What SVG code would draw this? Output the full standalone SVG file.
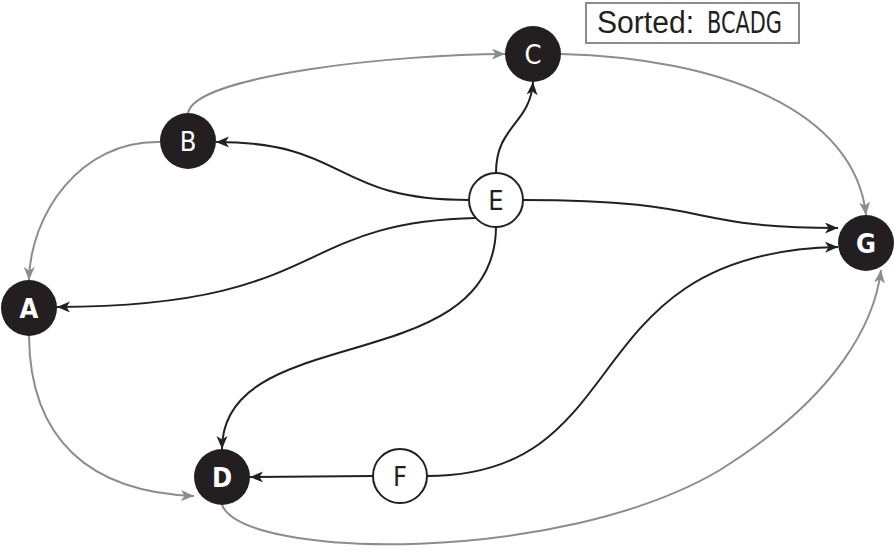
<svg xmlns="http://www.w3.org/2000/svg" width="894" height="551" viewBox="0 0 894 551">
  <style>
    .edge { fill: none; stroke-width: 2; }
    .gray { stroke: #8c8c8c; }
    .dark { stroke: #231f20; }
    .filled circle { fill: #231f20; }
    .open circle { fill: #ffffff; stroke: #231f20; stroke-width: 2; }
    .filled text { fill: #ffffff; }
    .open text { fill: #231f20; }
    text.lbl { font-family: "DejaVu Sans Condensed", "Liberation Sans Narrow", "DejaVu Sans", sans-serif; font-size: 27px; text-anchor: middle; }
    text.heavy { font-weight: bold; }
  </style>
  <defs>
    <marker id="arrowDark" markerUnits="userSpaceOnUse" markerWidth="14" markerHeight="12" refX="13" refY="5.5" orient="auto">
      <path d="M0,0 L13,5.5 L0,11 L3.5,5.5 z" fill="#231f20"/>
    </marker>
    <marker id="arrowGray" markerUnits="userSpaceOnUse" markerWidth="14" markerHeight="12" refX="13" refY="5.5" orient="auto">
      <path d="M0,0 L13,5.5 L0,11 L3.5,5.5 z" fill="#8c8c8c"/>
    </marker>
  </defs>

  <!-- sorted order box -->
  <g id="sorted">
    <rect x="586" y="3" width="213" height="40" fill="#ffffff" stroke="#8c8c8c" stroke-width="2"/>
    <text x="597" y="33" font-family="'Liberation Sans', sans-serif" font-size="31" fill="#231f20" textLength="97" lengthAdjust="spacingAndGlyphs">Sorted:</text>
    <text x="707" y="33" font-family="'DejaVu Sans Condensed', 'Liberation Sans Narrow', sans-serif" font-size="30" fill="#231f20" textLength="75" lengthAdjust="spacingAndGlyphs">BCADG</text>
  </g>

  <g id="connectors">
    <!-- gray edges -->
    <path class="edge gray" marker-end="url(#arrowGray)" d="M188,113 C195,75 400,54 505,54"/>
    <path class="edge gray" marker-end="url(#arrowGray)" d="M561,54 C720,58 855,110 866,215"/>
    <path class="edge gray" marker-end="url(#arrowGray)" d="M160,142 C80,140 30,215 29,280"/>
    <path class="edge gray" marker-end="url(#arrowGray)" d="M29,336 C30,440 90,492 194,496"/>
    <path class="edge gray" marker-end="url(#arrowGray)" d="M222,505 C245,560 560,565 720,470 C840,395 875,320 881,270"/>
    <!-- dark edges -->
    <path class="edge dark" marker-end="url(#arrowDark)" d="M496,173 C496,125 530,125 533,82"/>
    <path class="edge dark" marker-end="url(#arrowDark)" d="M469,200 C330,200 350,142 216,142"/>
    <path class="edge dark" marker-end="url(#arrowDark)" d="M523,200 C720,200 680,228 838,228"/>
    <path class="edge dark" marker-end="url(#arrowDark)" d="M476,218 C290,222 330,306 57,307"/>
    <path class="edge dark" marker-end="url(#arrowDark)" d="M496,227 C495,380 222,320 222,449"/>
    <path class="edge dark" marker-end="url(#arrowDark)" d="M373,476 L250,477"/>
    <path class="edge dark" marker-end="url(#arrowDark)" d="M427,476 C640,476 570,252 838,247"/>
  </g>

  <g id="node-A" class="filled"><circle cx="29" cy="308" r="28"/><text class="lbl heavy" x="29" y="318">A</text></g>
  <g id="node-B" class="filled"><circle cx="188" cy="141" r="28"/><text class="lbl" x="188" y="151">B</text></g>
  <g id="node-C" class="filled"><circle cx="533" cy="54" r="28"/><text class="lbl" x="533" y="64">C</text></g>
  <g id="node-D" class="filled"><circle cx="222" cy="477" r="28"/><text class="lbl heavy" x="222" y="487">D</text></g>
  <g id="node-E" class="open"><circle cx="496" cy="200" r="27"/><text class="lbl" x="496" y="210">E</text></g>
  <g id="node-F" class="open"><circle cx="400" cy="476" r="27"/><text class="lbl" x="400" y="486">F</text></g>
  <g id="node-G" class="filled"><circle cx="866" cy="243" r="28"/><text class="lbl heavy" x="866" y="253">G</text></g>
</svg>
